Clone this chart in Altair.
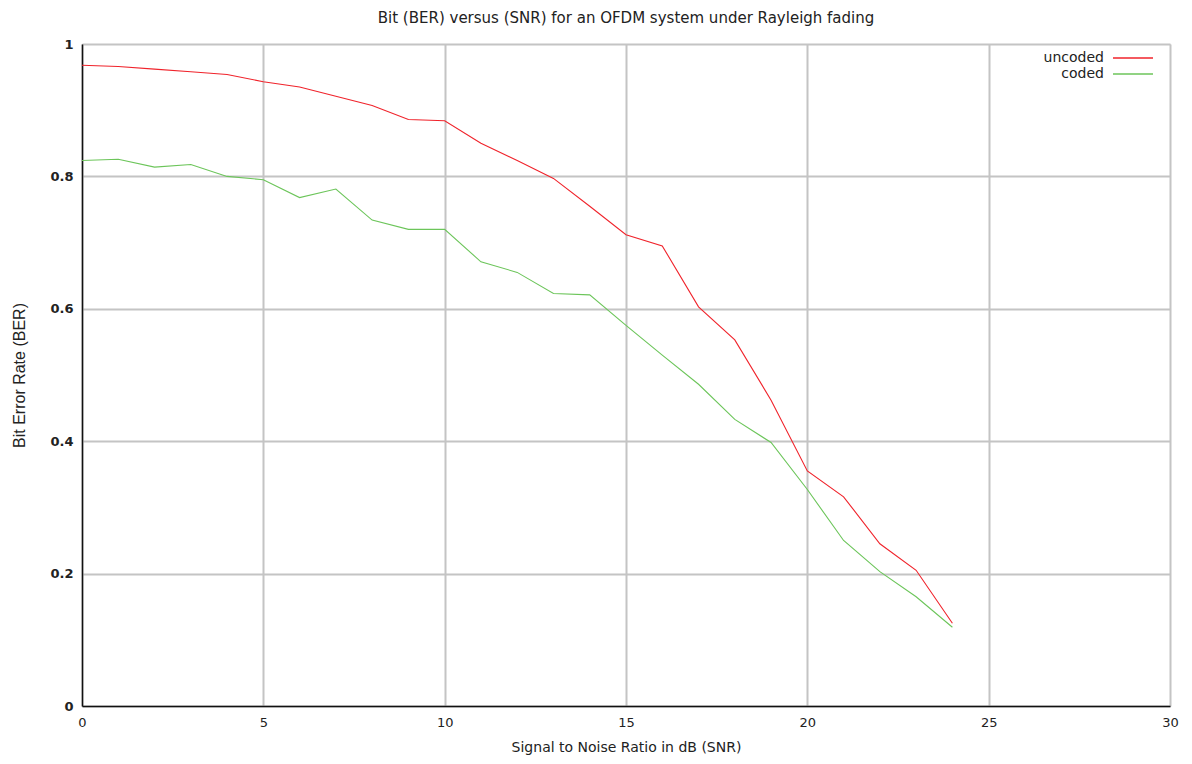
import altair as alt
import pandas as pd

snr = list(range(0, 25))
uncoded = [0.968, 0.966, 0.962, 0.958, 0.954, 0.943, 0.935, 0.921, 0.907, 0.886,
           0.884, 0.850, 0.824, 0.797, 0.755, 0.712, 0.695, 0.603, 0.553, 0.462,
           0.355, 0.316, 0.245, 0.205, 0.125]
coded = [0.824, 0.826, 0.814, 0.818, 0.800, 0.795, 0.768, 0.781, 0.734, 0.720,
         0.720, 0.671, 0.655, 0.623, 0.621, 0.575, 0.530, 0.486, 0.433, 0.398,
         0.327, 0.250, 0.203, 0.165, 0.119]
series = ["uncoded", "coded"]
colors = ["#f0232b", "#6cc55a"]

rows = []
for name, vals in zip(series, [uncoded, coded]):
    for s, v in zip(snr, vals):
        rows.append({"SNR": s, "BER": v, "series": name})
df = pd.DataFrame(rows)

font = "DejaVu Sans"

chart = alt.Chart(df).mark_line(strokeWidth=1.1).encode(
    x=alt.X("SNR:Q", scale=alt.Scale(domain=[0, 30], nice=False),
            axis=alt.Axis(title="Signal to Noise Ratio in dB (SNR)", values=[0, 5, 10, 15, 20, 25, 30],
                          grid=True, gridColor="#c4c4c4", gridWidth=2,
                          domainColor="#111111", domainWidth=1.5, labelFlush=False,
                          tickSize=0, labelFont=font, labelFontSize=13, labelColor="#222222",
                          labelPadding=10, titleFont=font, titleFontSize=14, titleFontWeight="normal",
                          titleColor="#222222", titlePadding=11)),
    y=alt.Y("BER:Q", scale=alt.Scale(domain=[0, 1], nice=False),
            axis=alt.Axis(title="Bit Error Rate (BER)", values=[0, 0.2, 0.4, 0.6, 0.8, 1],
                          labelExpr="datum.value == 0 ? '0' : datum.value == 1 ? '1' : format(datum.value, '.1f')",
                          grid=True, gridColor="#c4c4c4", gridWidth=2,
                          domainColor="#111111", domainWidth=1.5, labelFlush=False,
                          tickSize=0, labelFont=font, labelFontSize=13, labelFontWeight="bold",
                          labelColor="#222222", labelPadding=9,
                          titleFont="Liberation Sans", titleFontSize=16, titleFontWeight="normal",
                          titleColor="#222222", titlePadding=22)),
    color=alt.Color("series:N", scale=alt.Scale(domain=series, range=colors),
                    legend=alt.Legend(title=None, orient="none", legendX=1044, legendY=7,
                                      symbolType="M-4,0H4", symbolSize=100, symbolStrokeWidth=1.5,
                                      labelAlign="right", labelOffset={"expr": "-36"},
                                      labelFont=font, labelFontSize=14, labelColor="#222222",
                                      rowPadding=2)),
).properties(
    width=1088, height=662,
    title=alt.TitleParams("Bit (BER) versus (SNR) for an OFDM system under Rayleigh fading",
                          font=font, fontSize=15, fontWeight="normal", color="#222222",
                          anchor="middle", offset=12),
    padding={"left": 74, "top": 36, "right": 14, "bottom": 50},
    autosize="none",
).configure_view(stroke="#333333", strokeWidth=1.5).configure(background="white")

chart.save("out.html", embed_options={"renderer": "svg", "actions": False})
